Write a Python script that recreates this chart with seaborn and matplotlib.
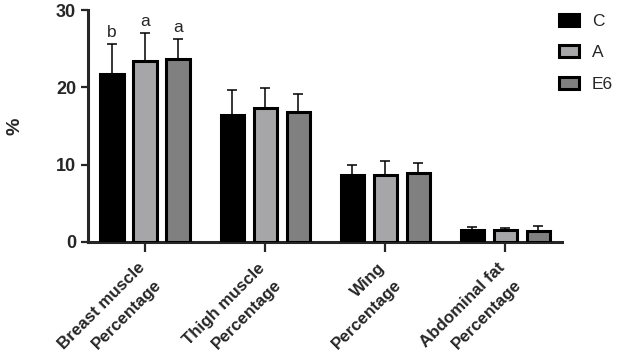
import numpy as np
import pandas as pd
import matplotlib
matplotlib.use("Agg")
import matplotlib.pyplot as plt
import matplotlib.transforms as mtransforms
import seaborn as sns

traits = ["Breast muscle\nPercentage", "Thigh muscle\nPercentage",
          "Wing\nPercentage", "Abdominal fat\nPercentage"]
groups = ["C", "A", "E6"]

mean_c = [21.7, 16.4, 8.7, 1.6]
mean_a = [23.4, 17.3, 8.7, 1.55]
mean_e6 = [23.7, 16.8, 8.9, 1.45]

sd_c = [3.9, 3.2, 1.2, 0.3]
sd_a = [3.6, 2.6, 1.8, 0.3]
sd_e6 = [2.6, 2.3, 1.3, 0.65]

letters_breast = ["b", "a", "a"]

colors = ["#000000", "#a6a6a8", "#808080"]

df = pd.DataFrame({
    "trait": traits * 3,
    "group": np.repeat(groups, len(traits)),
    "value": mean_c + mean_a + mean_e6,
})
sds = [sd_c, sd_a, sd_e6]

sns.set_theme(style="ticks")
plt.rcParams["font.family"] = ["Liberation Sans", "DejaVu Sans"]

fig = plt.figure(figsize=(6.24, 3.6), dpi=100)
ax = fig.add_axes([0.141, 0.328, 0.76, 0.644])

sns.barplot(data=df, x="trait", y="value", hue="group", hue_order=groups,
            palette=colors, width=0.825, gap=0.3, errorbar=None,
            edgecolor="black", linewidth=2.2, ax=ax, zorder=3)

bar_conts = list(ax.containers)
for i, cont in enumerate(bar_conts):
    xs = [b.get_x() + b.get_width() / 2 for b in cont]
    hs = [b.get_height() for b in cont]
    ax.errorbar(xs, hs, yerr=[np.zeros(len(hs)), sds[i]], fmt="none",
                ecolor="black", elinewidth=1.1, capsize=3.6, capthick=1.1,
                zorder=2)
    # significance letters on the breast muscle group
    ax.annotate(letters_breast[i], (xs[0], hs[0] + sds[i][0]),
                xytext=(0, 3), textcoords="offset points",
                ha="center", va="bottom", fontsize=12.5)

ax.set_ylim(0, 30)
ax.set_xlim(-0.475, 3.475)
ax.set_yticks([0, 10, 20, 30])
ax.set_xlabel("")
ax.set_ylabel("%", fontsize=14, fontweight="bold")
ax.yaxis.set_label_coords(-0.135, 0.5)

sns.despine(ax=ax)
for s in ["left", "bottom"]:
    ax.spines[s].set_linewidth(2.2)
ax.tick_params(axis="y", length=5, width=1.6, labelsize=13, pad=3.5)
ax.tick_params(axis="x", length=7, width=1.6, labelsize=12.2, pad=4)
for t in ax.get_yticklabels():
    t.set_fontweight("bold")
shift = mtransforms.ScaledTranslation(-8 / 100, -3 / 100, fig.dpi_scale_trans)
for t in ax.get_xticklabels():
    t.set_fontweight("bold")
    t.set_rotation(45)
    t.set_ha("right")
    t.set_va("top")
    t.set_rotation_mode("anchor")
    t.set_multialignment("right")
    t.set_linespacing(1.7)
    t.set_transform(t.get_transform() + shift)

sns.move_legend(ax, loc="upper left", bbox_to_anchor=(0.896, 0.962),
                bbox_transform=fig.transFigure, frameon=False, title=None,
                fontsize=12.5, handlelength=1.15, handleheight=0.7,
                labelspacing=0.95, handletextpad=0.75, borderpad=0,
                borderaxespad=0)

fig.savefig("out.png", dpi=100)
